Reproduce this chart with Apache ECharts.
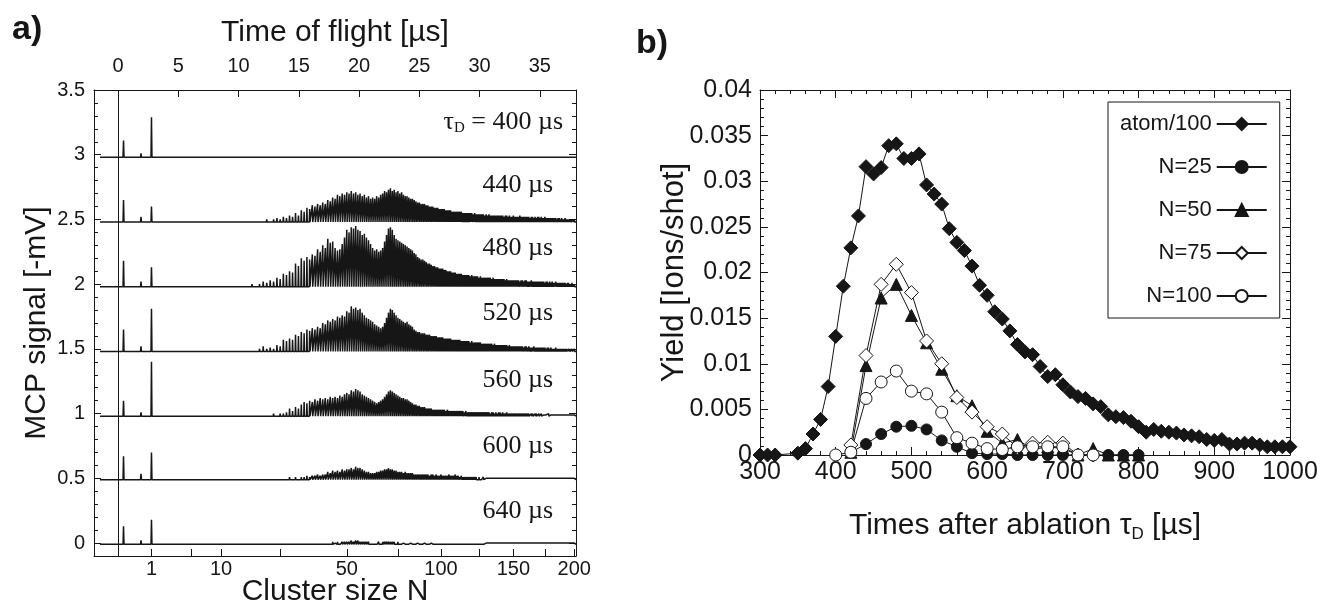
<!DOCTYPE html>
<html>
<head>
<meta charset="utf-8">
<script src="https://cdn.jsdelivr.net/npm/echarts@6/dist/echarts.min.js"></script>
<style>
html, body { margin: 0; padding: 0; background: #fff; }
#main { width: 1320px; height: 603px; }
</style>
</head>
<body>
<div id="main"></div>
<script>
// ---------- panel a : MCP spectra ----------
var delays = ['400', '440', '480', '520', '560', '600', '640'];
var baselines = [2.98, 2.48, 1.98, 1.48, 0.98, 0.49, -0.01];
// peaks before the clusters (height in mV)
var spikeA = [0.13, 0.17, 0.20, 0.17, 0.12, 0.18, 0.14];   // ~0.45 us
var spikeB = [0.03, 0.04, 0.04, 0.04, 0.03, 0.045, 0.03];  // ~1.9 us
var atomPeak = [0.31, 0.12, 0.15, 0.33, 0.42, 0.21, 0.19]; // N = 1
// cluster peak heights, N = 12 ... 200, in 0.01 mV
var clusterStart = 12;
var h400 = [];
var h440 = [0,0,0,0,1,0,1,1,
  1,2,1,2,3,2,4,3,5,4, 7,5,9,8,11,10,13,12,14,13, 15,14,17,16,19,18,21,20,22,21,
  23,22,24,22,23,21,22,20,21,19, 20,18,19,18,20,19,21,22,24,23, 25,26,24,25,23,24,22,23,21,20,
  20,19,18,18,17,16,15,15,14,14, 14,13,13,12,12,12,11,11,11,10, 10,10,10,9,9,9,9,8,8,8,
  8,8,8,8,7,7,7,7,7,7, 7,6,7,6,6,6,6,6,6,5, 6,5,6,5,5,5,5,5,5,5, 5,5,5,4,5,5,4,5,4,4,
  5,4,4,4,4,5,4,4,4,4, 4,4,4,3,4,4,3,4,3,4, 4,3,4,3,3,4,3,3,3,3, 3,3,3,3,3,2,3,3,2,3,
  2,2,3,2,2,2,2,2,1,2,2];
var h480 = [0,1,0,1,1,2,1,2,
  4,3,5,4,7,6,10,9,12,11, 18,16,22,20,23,21,25,24,29,27, 32,30,37,34,35,30,28,29,33,38,
  44,42,46,45,47,44,43,40,41,38, 36,33,30,28,29,27,28,30,35,40, 45,46,44,40,37,36,35,34,33,32,
  31,30,29,28,26,25,23,22,21,21, 20,19,18,18,17,16,16,15,15,14, 14,14,13,13,12,12,12,11,11,11,
  10,10,10,10,9,9,9,9,9,8, 9,8,8,8,8,7,8,7,7,7, 7,7,7,7,6,7,6,6,6,6, 6,6,6,6,5,6,5,5,5,5,
  5,5,5,5,5,4,5,5,4,5, 5,4,4,4,5,4,4,4,4,4, 4,4,4,4,4,3,4,4,3,4, 3,4,3,3,4,3,3,3,3,3,
  3,3,3,2,3,3,2,2,3,2,2];
var h520 = [0,0,1,0,1,1,1,2,
  4,2,3,2,5,4,9,8,10,9, 13,12,15,14,17,16,18,17,19,18, 22,21,24,23,25,24,27,26,28,27,
  31,30,35,33,34,32,33,30,28,26, 25,24,23,21,20,19,18,19,22,26, 30,33,32,30,28,26,25,24,23,22,
  23,21,20,19,17,16,15,15,14,14, 14,13,13,13,12,12,12,12,11,11, 11,11,10,10,10,10,10,9,9,9,
  9,9,9,8,8,8,8,8,8,7, 8,7,7,7,7,7,7,6,6,6, 6,6,6,6,6,5,6,5,5,5, 5,5,5,5,5,5,4,5,4,4,
  4,4,4,4,4,4,4,4,3,4, 4,3,4,3,3,3,4,3,3,3, 3,3,3,3,3,3,2,3,3,2, 3,2,2,2,3,2,2,2,2,2,
  2,2,2,2,1,2,2,1,2,1,2];
var h560 = [0,0,0,0,0,1,0,1,
  1,1,1,2,1,2,2,3,6,4, 7,6,9,11,10,12,11,13,12,14, 13,14,13,15,14,15,14,16,15,17,
  18,17,20,19,21,20,19,17,16,15, 14,13,12,11,10,11,12,13,15,17, 19,20,19,18,17,16,15,14,14,13,
  13,12,11,10,9,9,8,8,7,7, 7,6,6,6,6,5,5,5,5,5, 5,5,5,4,5,4,4,4,4,4,
  4,4,4,4,4,3,4,3,3,3, 3,3,3,3,3,3,3,3,3,3, 3,3,3,2,3,3,2,3,2,3, 3,2,3,2,2,3,2,2,2,2,
  2,2,2,2,2,2,2,2,2,2, 2,2,2,1,2,2,1,2,2,1, 2,1,2,1,1,2,1,1,2,1, 1,1,1,1,1,1,1,1,1,1,
  1,1,1,1,1,1,1,1,1,1,1];
var h600 = [0,0,0,0,0,0,0,0,
  0,0,1,0,1,0,1,1,2,1, 2,1,2,2,3,2,3,3,4,3, 4,4,6,5,7,6,7,6,8,7,
  8,8,9,8,10,9,9,8,7,6, 6,5,5,5,6,6,7,7,8,8, 9,8,8,7,7,6,6,6,5,6,
  5,5,5,5,4,4,4,4,4,4, 4,4,4,3,4,4,3,4,3,3, 4,3,3,3,3,4,3,3,3,4,
  3,3,2,3,2,2,2,2,2,2, 2,2,2,2,1,2,1,1,2,1, 1,1,1,1,1,1,1,1,1,1, 1,1,1,1,1,1,1,1,1,1,
  1,1,1,1,1,1,1,1,1,1, 1,1,1,1,1,1,1,1,1,1, 1,1,1,1,1,1,1,1,1,1, 1,1,1,1,1,1,1,1,1,1,
  1,1,1,1,1,1,1,1,1,1,1];
var h640 = [0,0,0,0,0,0,0,0,
  0,0,0,0,0,0,0,0,0,1, 0,1,0,1,0,1,1,0,1,1, 1,1,1,1,2,1,2,1,2,2,
  2,2,3,2,3,3,2,2,2,2, 2,1,1,1,1,2,1,2,2,2, 2,2,2,2,1,2,1,1,1,1,
  1,1,1,1,1,1,1,1,1,1, 1,1,1,1,1,1,1,1,1,1, 1,1,1,1,1,1,1,1,1,1,
  1,1,1,1,1,1,1,1,1,1, 1,1,1,1,1,1,1,1,1,1, 1,1,1,1,1,1,1,1,1,1, 1,1,1,1,1,1,1,1,1,1,
  1,1,1,1,1,1,1,1,1,1, 1,1,1,1,1,1,1,1,1,1, 1,1,1,1,1,1,1,1,1,1, 1,1,1,1,1,1,1,1,1,1,
  1,1,1,1,1,1,1,1,1,1,1];
var clusterHeights = [h400, h440, h480, h520, h560, h600, h640];
var topTicks = [0, 5, 10, 15, 20, 25, 30, 35];
var sizeTicks = [1, 5, 10, 25, 50, 75, 100, 125, 150, 175, 200];
var sizeLabels = [1, 10, 50, 100, 150, 200];
var mcpTicks = [0, 0.5, 1, 1.5, 2, 2.5, 3, 3.5];

// ---------- panel b : yields ----------
var atomTimes = [300, 310, 320, 350, 360, 370, 380, 390, 400, 410, 420, 430, 440, 450, 460, 470, 480,
  490, 500, 510, 520, 530, 540, 550, 560, 570, 580, 590, 600, 610, 620, 630, 640, 650, 660, 670,
  680, 690, 700, 710, 720, 730, 740, 750, 760, 770, 780, 790, 800, 810, 820, 830, 840, 850, 860,
  870, 880, 890, 900, 910, 920, 930, 940, 950, 960, 970, 980, 990, 1000];
var atomYield = [0, 0, 0, 0.0002, 0.0007, 0.0023, 0.0039, 0.0075, 0.013, 0.0185, 0.0227, 0.0262,
  0.0316, 0.0308, 0.0315, 0.0339, 0.0341, 0.0325, 0.0325, 0.033, 0.0296, 0.0286, 0.0275, 0.0248,
  0.0233, 0.0224, 0.0207, 0.0186, 0.0175, 0.0157, 0.0149, 0.0136, 0.0121, 0.0113, 0.011, 0.0097,
  0.0086, 0.0088, 0.0077, 0.0069, 0.0064, 0.0062, 0.0056, 0.0053, 0.0044, 0.0042, 0.0041, 0.0037,
  0.0031, 0.0025, 0.0028, 0.0026, 0.0025, 0.0024, 0.0022, 0.0021, 0.002, 0.0017, 0.0016, 0.0017,
  0.0012, 0.0012, 0.0013, 0.0013, 0.0011, 0.0009, 0.0009, 0.0009, 0.0009];
var sizeTimes = [400, 420, 440, 460, 480, 500, 520, 540, 560, 580, 600, 620, 640, 660, 680, 700, 720, 740, 760, 780, 800];
var yieldN25 = [null, 0.0003, 0.0012, 0.0023, 0.0031, 0.0032, 0.0028, 0.0016, 0.0009, 0.0002, 0.0001, 0.0001,
  0, 0, 0, 0, 0, 0, 0, 0, 0];
var yieldN50 = [null, 0.0003, 0.0098, 0.0172, 0.0187, 0.0153, 0.0123, 0.0094, 0.0065, 0.0054, 0.0026, 0.0013,
  0.0017, 0.0006, 0.0009, 0.0007, 0, 0.0007, 0, 0, 0];
var yieldN75 = [null, 0.0011, 0.0109, 0.0187, 0.0209, 0.0178, 0.0125, 0.01, 0.0063, 0.0047, 0.0031, 0.0023,
  0.0008, 0.0013, 0.0014, 0.0013, 0, 0, null, null, null];
var yieldN100 = [0, 0.0003, 0.0062, 0.008, 0.0092, 0.007, 0.0067, 0.0047, 0.0019, 0.0013, 0.0007, 0.0006,
  0.0009, 0.0009, 0.0009, 0.0009, 0, 0, null, null, null];

var ink = '#161616';
var sans = 'Liberation Sans';
var serif = 'Liberation Serif';

// time of flight (us) of a cluster of size n
function tof(n) { return 2.67 * Math.sqrt(n) + 0.1; }
function sizeOf(t) { return Math.round(Math.pow((t - 0.1) / 2.67, 2)); }

function buildTrace(i) {
  var b = baselines[i];
  var pts = [[-1.5, b]];
  var early = [[0.45, spikeA[i]], [1.9, spikeB[i]], [tof(1), atomPeak[i]]];
  early.forEach(function (p) {
    pts.push([p[0] - 0.04, b], [p[0], b + p[1]], [p[0] + 0.04, b]);
  });
  var h = clusterHeights[i];
  for (var k = 0; k < h.length; k++) {
    var t = tof(clusterStart + k);
    pts.push([t - 0.03, b], [t, b + h[k] / 100], [t + 0.03, b]);
  }
  pts.push([38, b]);
  return pts;
}

function pairs(xs, ys) {
  return xs.map(function (x, i) { return [x, ys[i]]; });
}

var minorMcp = [];
for (var k = -1; k <= 35; k++) {
  if (k % 5 !== 0) minorMcp.push(k / 10);
}

function axisBase(extra) {
  var a = {
    type: 'value',
    nameMoveOverlap: false,
    axisLine: { show: true, onZero: false, lineStyle: { color: ink, width: 1 } },
    axisTick: { show: true, inside: true, length: 7, lineStyle: { color: ink, width: 1 } },
    axisLabel: { show: false, color: ink, fontFamily: sans },
    splitLine: { show: false },
    nameTextStyle: { color: ink, fontSize: 30, fontFamily: sans }
  };
  return echarts.util.merge(a, extra, true);
}

var chart = echarts.init(document.getElementById('main'));

var series = [];
delays.forEach(function (d, i) {
  var s = {
    name: d + ' µs',
    type: 'line',
    xAxisIndex: 0,
    yAxisIndex: 0,
    data: buildTrace(i),
    showSymbol: false,
    symbol: 'none',
    silent: true,
    lineStyle: { color: ink, width: 1.5 }
  };
  if (i === 0) {
    s.markLine = {
      silent: true,
      symbol: 'none',
      label: { show: false },
      lineStyle: { color: ink, width: 1, type: 'solid' },
      data: [{ xAxis: 0 }]
    };
  }
  series.push(s);
});

var yieldSeries = [
  { name: 'atom/100', x: atomTimes, y: atomYield, symbol: 'diamond', size: 14, fill: ink },
  { name: 'N=25', x: sizeTimes, y: yieldN25, symbol: 'circle', size: 11, fill: ink },
  { name: 'N=50', x: sizeTimes, y: yieldN50, symbol: 'triangle', size: 12, fill: ink },
  { name: 'N=75', x: sizeTimes, y: yieldN75, symbol: 'diamond', size: 14, fill: '#fff' },
  { name: 'N=100', x: sizeTimes, y: yieldN100, symbol: 'circle', size: 12, fill: '#fff' }
];
yieldSeries.forEach(function (ys) {
  series.push({
    name: ys.name,
    type: 'line',
    xAxisIndex: 2,
    yAxisIndex: 4,
    data: pairs(ys.x, ys.y),
    symbol: ys.symbol,
    symbolSize: ys.size,
    showAllSymbol: true,
    connectNulls: false,
    lineStyle: { color: ink, width: 1 },
    itemStyle: { color: ys.fill, borderColor: ink, borderWidth: 1 }
  });
});

var labelY = [122, 185, 248, 313, 380, 446, 511];
var graphics = [
  { type: 'text', left: 12, top: 13, style: { text: 'a)', font: 'bold 34px "Liberation Sans"', fill: ink } },
  { type: 'text', left: 636, top: 27, style: { text: 'b)', font: 'bold 34px "Liberation Sans"', fill: ink } }
];
delays.forEach(function (d, i) {
  var txt = i === 0 ? '{t|τ}{d|D}{t| = ' + d + ' µs}' : '{t|' + d + ' µs}';
  graphics.push({
    type: 'text',
    x: i === 0 ? 563 : 553,
    y: labelY[i],
    style: {
      text: txt,
      align: 'right',
      verticalAlign: 'middle',
      fill: ink,
      rich: {
        t: { fontSize: 26, fontFamily: serif, color: ink, lineHeight: 28 },
        d: { fontSize: 15, fontFamily: serif, color: ink, verticalAlign: 'bottom', lineHeight: 28 }
      }
    }
  });
});

var option = {
  animation: false,
  backgroundColor: '#fff',
  textStyle: { fontFamily: sans, color: ink },
  grid: [
    { left: 94, top: 90, width: 482, height: 466, outerBoundsMode: 'none' },
    { left: 760, top: 90, width: 530, height: 365, outerBoundsMode: 'none' }
  ],
  legend: {
    data: ['atom/100', 'N=25', 'N=50', 'N=75', 'N=100'],
    orient: 'vertical',
    left: 1108,
    top: 102,
    align: 'right',
    itemWidth: 50,
    itemHeight: 15,
    itemGap: 21,
    padding: [11, 12, 11, 12],
    borderColor: ink,
    borderWidth: 1,
    selectedMode: false,
    textStyle: { fontSize: 22, color: ink, fontFamily: sans }
  },
  xAxis: [
    axisBase({
      gridIndex: 0, position: 'top', min: -2, max: 38,
      axisTick: { customValues: topTicks },
      axisLabel: { show: true, customValues: topTicks, fontSize: 20, margin: 14 },
      name: 'Time of flight [µs]', nameLocation: 'middle', nameGap: 42
    }),
    axisBase({
      gridIndex: 0, position: 'bottom', min: -2, max: 38,
      axisTick: { customValues: sizeTicks.map(tof) },
      axisLabel: {
        show: true, customValues: sizeLabels.map(tof), fontSize: 20, margin: 3,
        formatter: function (v) { return String(sizeOf(v)); }
      },
      name: 'Cluster size N', nameLocation: 'middle', nameGap: 21
    }),
    axisBase({
      gridIndex: 1, position: 'bottom', min: 300, max: 1000, interval: 100,
      axisTick: { length: 8 },
      minorTick: { show: true, splitNumber: 5, length: 4, lineStyle: { color: ink } },
      axisLabel: { show: true, fontSize: 25, margin: 5, formatter: function (v) { return String(v); } },
      name: 'Times after ablation τ{d|D} [µs]', nameLocation: 'middle', nameGap: 54,
      nameTextStyle: { lineHeight: 34, rich: { d: { fontSize: 17, fontFamily: sans, color: ink, verticalAlign: 'bottom', lineHeight: 34 } } }
    }),
    axisBase({
      gridIndex: 1, position: 'top', min: 300, max: 1000, interval: 100,
      axisTick: { length: 8 },
      minorTick: { show: true, splitNumber: 5, length: 4, lineStyle: { color: ink } }
    })
  ],
  yAxis: [
    axisBase({
      gridIndex: 0, position: 'left', min: -0.1, max: 3.5,
      axisTick: { customValues: mcpTicks },
      axisLabel: { show: true, customValues: mcpTicks, fontSize: 20, margin: 9 },
      name: 'MCP signal [-mV]', nameLocation: 'middle', nameGap: 42
    }),
    axisBase({
      gridIndex: 0, position: 'left', min: -0.1, max: 3.5,
      axisLine: { show: false },
      axisTick: { customValues: minorMcp, length: 4 }
    }),
    axisBase({
      gridIndex: 0, position: 'right', min: -0.1, max: 3.5,
      axisTick: { customValues: mcpTicks }
    }),
    axisBase({
      gridIndex: 0, position: 'right', min: -0.1, max: 3.5,
      axisLine: { show: false },
      axisTick: { customValues: minorMcp, length: 4 }
    }),
    axisBase({
      gridIndex: 1, position: 'left', min: 0, max: 0.04, interval: 0.005,
      axisTick: { length: 8 },
      minorTick: { show: true, splitNumber: 5, length: 4, lineStyle: { color: ink } },
      axisLabel: { show: true, fontSize: 25, margin: 8 },
      name: 'Yield [Ions/shot]', nameLocation: 'middle', nameGap: 70,
      nameTextStyle: { fontSize: 31 }
    }),
    axisBase({
      gridIndex: 1, position: 'right', min: 0, max: 0.04, interval: 0.005,
      axisTick: { length: 8 },
      minorTick: { show: true, splitNumber: 5, length: 4, lineStyle: { color: ink } }
    })
  ],
  series: series,
  graphic: graphics
};

chart.setOption(option);
</script>
</body>
</html>
